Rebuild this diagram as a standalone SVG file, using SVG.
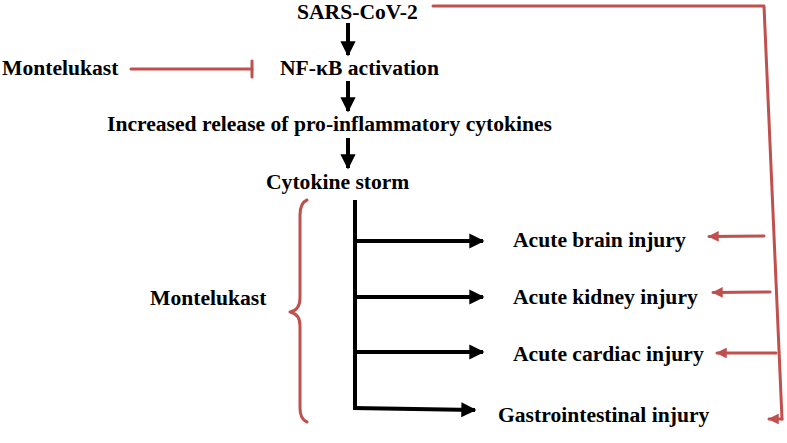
<svg xmlns="http://www.w3.org/2000/svg" width="787" height="443" viewBox="0 0 787 443">
<defs>
<style>
.t{font-family:"Liberation Serif","Times New Roman",serif;font-weight:bold;font-size:21.6px;fill:#000}
.blk{stroke:#000;stroke-width:4;fill:none}
.red{stroke:#c0504d;stroke-width:3;fill:none;stroke-linecap:round;stroke-linejoin:round}
</style>
<marker id="ah" viewBox="0 0 10 10" refX="9" refY="5" markerWidth="3.8" markerHeight="3.8" markerUnits="strokeWidth" orient="auto"><path d="M0,0 L10,5 L0,10 z" fill="#000"/></marker>
<marker id="rh" viewBox="0 0 10 10" refX="9" refY="5" markerWidth="4.2" markerHeight="3.6" markerUnits="strokeWidth" orient="auto"><path d="M0,0 L10,5 L0,10 z" fill="#c0504d"/></marker>
</defs>
<rect width="787" height="443" fill="#fff"/>
<g id="connectors">
<line class="blk" x1="348" y1="23" x2="348" y2="55" marker-end="url(#ah)"/>
<line class="blk" x1="348" y1="81" x2="348" y2="111" marker-end="url(#ah)"/>
<line class="blk" x1="348" y1="138" x2="348" y2="168" marker-end="url(#ah)"/>
<line class="blk" x1="355" y1="200" x2="355" y2="410"/>
<line class="blk" x1="353" y1="241" x2="483" y2="241" marker-end="url(#ah)"/>
<line class="blk" x1="353" y1="297" x2="483" y2="297" marker-end="url(#ah)"/>
<line class="blk" x1="353" y1="352" x2="483" y2="352" marker-end="url(#ah)"/>
<line class="blk" x1="353" y1="408" x2="475" y2="410" marker-end="url(#ah)"/>
<line class="red" x1="131" y1="69" x2="252" y2="69"/>
<line class="red" x1="252" y1="61" x2="252" y2="77"/>
<polyline class="red" points="433,6 764,6 782,419"/>
<line class="red" x1="764" y1="236" x2="709" y2="236.5" marker-end="url(#rh)"/>
<line class="red" x1="770" y1="292" x2="713" y2="292.5" marker-end="url(#rh)"/>
<line class="red" x1="776" y1="353" x2="717" y2="353" marker-end="url(#rh)"/>
<line class="red" x1="782" y1="419" x2="769" y2="419" marker-end="url(#rh)"/>
<path class="red" d="M307,200 Q300,203 300,215 L300,298 Q300,310 290,312 Q300,314 300,326 L300,408 Q300,419 307,422"/>
</g>
<g id="sars"><text class="t" x="297" y="19">SARS-CoV-2</text></g>
<g id="nfkb"><text class="t" x="280" y="75">NF-κB activation</text></g>
<g id="montelukast1"><text class="t" x="2" y="75">Montelukast</text></g>
<g id="release"><text class="t" x="107" y="131">Increased release of pro-inflammatory cytokines</text></g>
<g id="storm"><text class="t" x="266" y="189">Cytokine storm</text></g>
<g id="montelukast2"><text class="t" x="150" y="305">Montelukast</text></g>
<g id="brain"><text class="t" x="513" y="247">Acute brain injury</text></g>
<g id="kidney"><text class="t" x="513" y="304">Acute kidney injury</text></g>
<g id="cardiac"><text class="t" x="513" y="361">Acute cardiac injury</text></g>
<g id="gastro"><text class="t" x="498" y="422">Gastrointestinal injury</text></g>
</svg>
